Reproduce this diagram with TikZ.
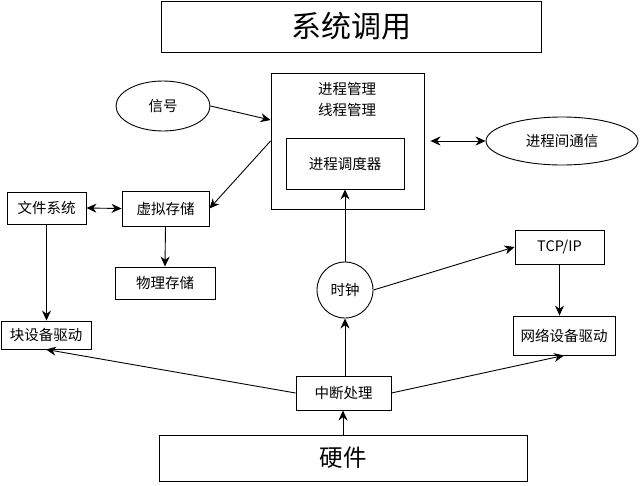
\documentclass[tikz,border=0pt]{standalone}
\usepackage{fontspec}
\setmainfont{Noto Sans CJK SC}
\usetikzlibrary{arrows.meta,shapes.geometric}
\begin{document}
\begin{tikzpicture}[x=1pt,y=-1pt,
  box/.style={draw,line width=0.9pt,rectangle,inner sep=0pt,font=\fontsize{14.5}{16}\selectfont},
  oval/.style={draw,line width=0.9pt,ellipse,inner sep=0pt,font=\fontsize{14.5}{16}\selectfont},
  lbl/.style={inner sep=0pt,font=\fontsize{14.5}{16}\selectfont},
  arr/.style={line width=0.9pt,-{Stealth[length=10pt,width=9pt]}},
  darr/.style={line width=0.9pt,{Stealth[length=10pt,width=9pt]}-{Stealth[length=10pt,width=9pt]}},
  ln/.style={line width=0.9pt}]
\useasboundingbox (0,0) rectangle (640,485);
\fill[white] (0,0) rectangle (640,485);
% big boxes
\node[box,minimum width=380pt,minimum height=51pt,font=\fontsize{30}{32}\selectfont] (sys) at (351,26.5) {系统调用};
\node[box,minimum width=368pt,minimum height=46pt,font=\fontsize{23.5}{26}\selectfont] (hw) at (343,458) {硬件};
% process management
\node[box,minimum width=153pt,minimum height=136pt] (proc) at (347.5,141) {};
\node[lbl] (pt1) at (347,89) {进程管理};
\node[lbl] (pt2) at (347,110) {线程管理};
\node[box,minimum width=118pt,minimum height=51pt] (sched) at (345,163.5) {进程调度器};
% ellipses
\node[oval,minimum width=94pt,minimum height=50pt] (sig) at (163,106) {信号};
\node[oval,minimum width=152pt,minimum height=48pt] (ipc) at (562,141) {进程间通信};
% left boxes
\node[box,minimum width=79pt,minimum height=32pt] (fs) at (46.5,208) {文件系统};
\node[box,minimum width=87pt,minimum height=35pt] (vm) at (165.5,208.5) {虚拟存储};
\node[box,minimum width=100pt,minimum height=32pt] (pm) at (165,283) {物理存储};
\node[box,minimum width=90pt,minimum height=28pt] (blk) at (46,335) {块设备驱动};
% right boxes
\node[box,minimum width=89pt,minimum height=34pt] (tcp) at (559.5,247) {TCP/IP};
\node[box,minimum width=102pt,minimum height=39pt] (net) at (564,335.5) {网络设备驱动};
% center
\node[oval,circle,minimum size=56pt] (clk) at (345,290) {时钟};
\node[box,minimum width=95pt,minimum height=34pt] (irq) at (343.5,393) {中断处理};
% connectors
\draw[arr] (sig.east) -- ([yshift=21pt]proc.west);
\draw[arr] (proc.west) -- (vm.east);
\draw[darr] (fs.east) -- (vm.west);
\draw[arr] (vm.south) -- (pm.north);
\draw[arr] (fs.south) -- (fs.south |- blk.north);
\draw[arr] (irq.west) -- (blk.south);
\draw[arr] (irq.east) -- (net.south);
\draw[arr] (clk.south |- irq.north) -- (clk.south);
\draw[arr] (hw.north) -- (hw.north |- irq.south);
\draw[arr] (clk.north) -- (clk.north |- sched.south);
\draw[arr] (clk.east) -- (tcp.west);
\draw[arr] (tcp.south) -- (tcp.south |- net.north);
\draw[darr] ([xshift=6pt]proc.east) -- (ipc.west);
\end{tikzpicture}
\end{document}
